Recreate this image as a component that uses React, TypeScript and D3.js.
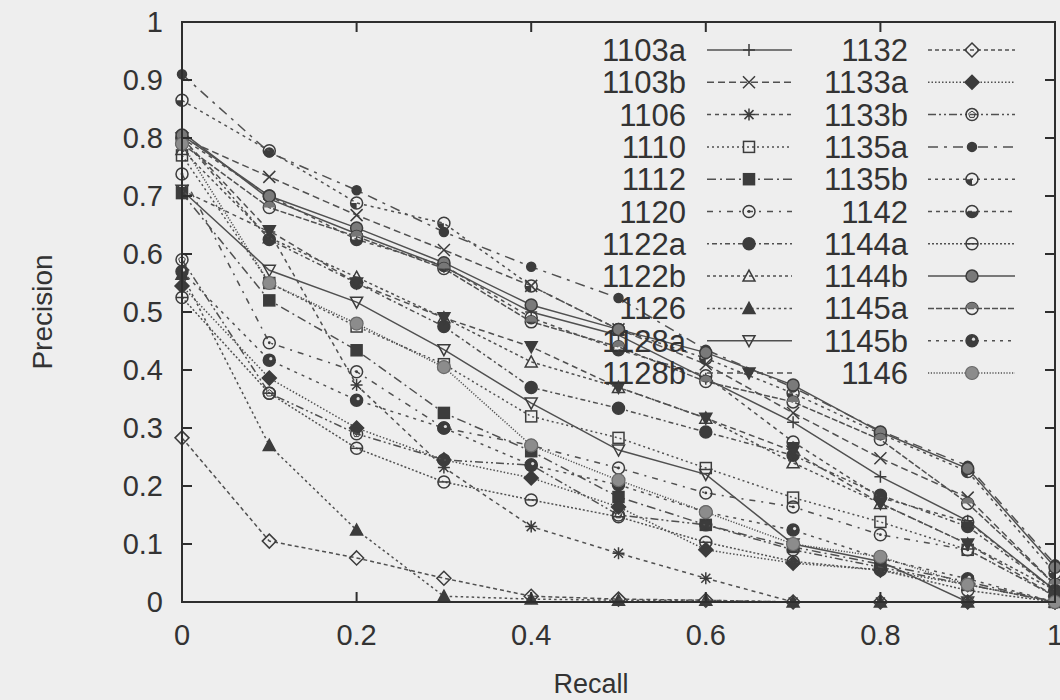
import React from "react";
import * as d3 from "d3";

// ---------- data ----------
const recall = [0, 0.1, 0.2, 0.3, 0.4, 0.5, 0.6, 0.7, 0.8, 0.9, 1.0];
const xTicks = [0, 0.2, 0.4, 0.6, 0.8, 1];
const yTicks = [0, 0.1, 0.2, 0.3, 0.4, 0.5, 0.6, 0.7, 0.8, 0.9, 1];
const xTickLabels = ["0", "0.2", "0.4", "0.6", "0.8", "1"];
const yTickLabels = ["0", "0.1", "0.2", "0.3", "0.4", "0.5", "0.6", "0.7", "0.8", "0.9", "1"];

const p1103a = [0.81, 0.695, 0.635, 0.578, 0.5, 0.46, 0.385, 0.31, 0.216, 0.14, 0.02];
const p1103b = [0.8, 0.733, 0.667, 0.607, 0.545, 0.47, 0.41, 0.326, 0.248, 0.18, 0.03];
const p1106 = [0.71, 0.638, 0.374, 0.232, 0.13, 0.084, 0.041, 0.0, 0.0, 0.0, 0.0];
const p1110 = [0.77, 0.55, 0.475, 0.41, 0.32, 0.283, 0.231, 0.18, 0.138, 0.09, 0.01];
const p1112 = [0.705, 0.52, 0.434, 0.326, 0.26, 0.181, 0.133, 0.095, 0.065, 0.035, 0.0];
const p1120 = [0.738, 0.447, 0.397, 0.3, 0.27, 0.231, 0.188, 0.164, 0.116, 0.09, 0.01];
const p1122a = [0.8, 0.625, 0.55, 0.475, 0.37, 0.334, 0.293, 0.253, 0.184, 0.13, 0.02];
const p1122b = [0.78, 0.628, 0.56, 0.49, 0.414, 0.37, 0.317, 0.24, 0.17, 0.1, 0.02];
const p1126 = [0.565, 0.27, 0.124, 0.01, 0.005, 0.003, 0.003, 0.0, 0.0, 0.0, 0.0];
const p1128a = [0.71, 0.572, 0.517, 0.435, 0.343, 0.262, 0.22, 0.1, 0.07, 0.0, 0.0];
const p1128b = [0.8, 0.64, 0.55, 0.49, 0.44, 0.37, 0.317, 0.26, 0.17, 0.1, 0.01];
const p1132 = [0.283, 0.105, 0.076, 0.041, 0.01, 0.005, 0.003, 0.0, 0.0, 0.0, 0.0];
const p1133a = [0.545, 0.386, 0.3, 0.245, 0.214, 0.164, 0.09, 0.067, 0.055, 0.03, 0.0];
const p1133b = [0.59, 0.36, 0.29, 0.245, 0.236, 0.15, 0.133, 0.09, 0.06, 0.03, 0.0];
const p1135a = [0.91, 0.775, 0.71, 0.638, 0.578, 0.524, 0.435, 0.37, 0.295, 0.235, 0.065];
const p1135b = [0.865, 0.778, 0.688, 0.653, 0.545, 0.47, 0.42, 0.36, 0.29, 0.225, 0.05];
const p1142 = [0.8, 0.7, 0.625, 0.58, 0.49, 0.435, 0.39, 0.276, 0.18, 0.138, 0.02];
const p1144a = [0.525, 0.36, 0.265, 0.207, 0.176, 0.147, 0.103, 0.07, 0.055, 0.02, 0.0];
const p1144b = [0.805, 0.7, 0.645, 0.585, 0.512, 0.47, 0.43, 0.374, 0.293, 0.23, 0.06];
const p1145a = [0.79, 0.68, 0.63, 0.575, 0.483, 0.44, 0.38, 0.345, 0.28, 0.17, 0.03];
const p1145b = [0.57, 0.417, 0.348, 0.3, 0.236, 0.202, 0.155, 0.124, 0.075, 0.04, 0.0];
const p1146 = [0.79, 0.55, 0.48, 0.405, 0.27, 0.21, 0.155, 0.1, 0.078, 0.03, 0.0];

const seriesNames = [
  "1103a", "1103b", "1106", "1110", "1112", "1120", "1122a", "1122b", "1126", "1128a", "1128b",
  "1132", "1133a", "1133b", "1135a", "1135b", "1142", "1144a", "1144b", "1145a", "1145b", "1146",
];
const seriesValues = [
  p1103a, p1103b, p1106, p1110, p1112, p1120, p1122a, p1122b, p1126, p1128a, p1128b,
  p1132, p1133a, p1133b, p1135a, p1135b, p1142, p1144a, p1144b, p1145a, p1145b, p1146,
];

// ---------- styles ----------
const markerKinds = [
  "plus", "cross", "star", "square", "squareFilled", "circleDot", "circleFilled", "triangle",
  "triangleFilled", "triDown", "triDownFilled",
  "diamond", "diamondFilled", "circlePent", "smallDot", "circleQuarter", "circleHalf", "circleBar",
  "circleGray", "circleDash", "circleDark", "circleLight",
];
const dashes = [
  "", "7,4", "4,4", "2,3", "9,4,2,4", "6,6,2,6", "2,3,5,3", "3,3", "2.5,3", "", "6,4",
  "4,3", "1.5,2", "8,3,2,3,2,3", "10,6,3,6", "3,4", "4,4", "2,2", "", "6,2", "3,5", "1.2,1.6",
];

const INK = "#3c3c3c";
const LINE = "#505050";

function Marker({ kind, cx, cy }: { kind: string; cx: number; cy: number }) {
  const s = 6;
  const common = { stroke: INK, strokeWidth: 1.5 };
  const g = (children: React.ReactNode) => <g transform={`translate(${cx},${cy})`}>{children}</g>;
  switch (kind) {
    case "plus":
      return g(<path d={`M${-s},0H${s}M0,${-s}V${s}`} fill="none" {...common} />);
    case "cross":
      return g(<path d={`M${-s},${-s}L${s},${s}M${-s},${s}L${s},${-s}`} fill="none" {...common} />);
    case "star":
      return g(<path d={`M${-s},0H${s}M0,${-s}V${s}M${-s + 1.5},${-s + 1.5}L${s - 1.5},${s - 1.5}M${-s + 1.5},${s - 1.5}L${s - 1.5},${-s + 1.5}`} fill="none" {...common} />);
    case "square":
      return g(<rect x={-5.5} y={-5.5} width={11} height={11} fill="none" {...common} />);
    case "squareFilled":
      return g(<rect x={-5.5} y={-5.5} width={11} height={11} fill={INK} {...common} />);
    case "circleDot":
      return g(<>
        <circle r={6} fill="none" {...common} />
        <circle r={1.4} fill={INK} />
      </>);
    case "circleFilled":
      return g(<circle r={6} fill={INK} {...common} />);
    case "triangle":
      return g(<path d="M0,-6L6,5H-6Z" fill="none" {...common} />);
    case "triangleFilled":
      return g(<path d="M0,-6L6,5H-6Z" fill={INK} {...common} />);
    case "triDown":
      return g(<path d="M0,6L6,-5H-6Z" fill="none" {...common} />);
    case "triDownFilled":
      return g(<path d="M0,6L6,-5H-6Z" fill={INK} {...common} />);
    case "diamond":
      return g(<path d="M0,-7L7,0L0,7L-7,0Z" fill="none" {...common} />);
    case "diamondFilled":
      return g(<path d="M0,-7L7,0L0,7L-7,0Z" fill={INK} {...common} />);
    case "circlePent":
      return g(<>
        <circle r={6} fill="none" {...common} />
        <path d="M0,-3.5L3.3,-1.1L2.1,2.8H-2.1L-3.3,-1.1Z" fill="none" stroke={INK} strokeWidth={1} />
      </>);
    case "smallDot":
      return g(<circle r={4.5} fill={INK} {...common} />);
    case "circleQuarter":
      return g(<>
        <circle r={6} fill="none" {...common} />
        <path d="M0,0V6A6,6 0 0 1 -6,0Z" fill={INK} />
      </>);
    case "circleHalf":
      return g(<>
        <circle r={6} fill="none" {...common} />
        <path d="M-6,0A6,6 0 0 0 6,0Z" fill={INK} />
      </>);
    case "circleBar":
      return g(<>
        <circle r={6} fill="none" {...common} />
        <path d="M-6,0H6" stroke={INK} strokeWidth={1.5} />
      </>);
    case "circleGray":
      return g(<circle r={6} fill="#7a7a7a" {...common} />);
    case "circleDash":
      return g(<>
        <circle r={6} fill="none" {...common} />
        <path d="M-6,0A6,6 0 0 1 6,0Z" fill="#777" />
      </>);
    case "circleDark":
      return g(<>
        <circle r={6} fill={INK} {...common} />
        <circle cx={1.5} cy={-1.5} r={1.6} fill="#ddd" />
      </>);
    case "circleLight":
      return g(<circle r={6.5} fill="#8c8c8c" stroke="#6a6a6a" strokeWidth={1.2} />);
    default:
      return null;
  }
}

export default function App() {
  const W = 1060, H = 700;
  const left = 182, right = 1055, top = 22, bottom = 602;
  const x = d3.scaleLinear().domain([0, 1]).range([left, right]);
  const y = d3.scaleLinear().domain([0, 1]).range([bottom, top]);
  const line = d3.line<number>().x((_, i) => x(recall[i])).y((d) => y(d));
  const font = "'Liberation Sans', Arial, Helvetica, sans-serif";
  const txt = "#333";

  const rowY = (i: number) => 50 + 32.3 * i;
  const legendCols = [
    { labelRight: 686, x0: 707, x1: 792, mx: 749 },
    { labelRight: 908, x0: 928, x1: 1015, mx: 972 },
  ];

  return (
    <svg width={W} height={H} style={{ position: "absolute", left: 0, top: 0, background: "#eeeeee" }} fontFamily={font}>
      <rect x={0} y={0} width={W} height={H} fill="#eeeeee" />
      {/* series */}
      {seriesValues.map((vals, si) => (
        <g key={seriesNames[si]}>
          <path d={line(vals) || ""} fill="none" stroke={LINE} strokeWidth={1.5} strokeDasharray={dashes[si] || undefined} />
          {vals.map((v, i) => (
            <Marker key={i} kind={markerKinds[si]} cx={x(recall[i])} cy={y(v)} />
          ))}
        </g>
      ))}
      {/* frame */}
      <rect x={left} y={top} width={right - left} height={bottom - top} fill="none" stroke="#2e2e2e" strokeWidth={2} />
      {yTicks.map((t) => (
        <g key={"y" + t}>
          <line x1={left} x2={left + 10} y1={y(t)} y2={y(t)} stroke="#2e2e2e" strokeWidth={2} />
          <line x1={right} x2={right - 10} y1={y(t)} y2={y(t)} stroke="#2e2e2e" strokeWidth={2} />
        </g>
      ))}
      {xTicks.map((t) => (
        <g key={"x" + t}>
          <line x1={x(t)} x2={x(t)} y1={bottom} y2={bottom - 10} stroke="#2e2e2e" strokeWidth={2} />
          <line x1={x(t)} x2={x(t)} y1={top} y2={top + 10} stroke="#2e2e2e" strokeWidth={2} />
        </g>
      ))}
      {yTicks.map((t, i) => (
        <text key={"yl" + t} x={163} y={y(t) + 10} textAnchor="end" fontSize={29} fill={txt}>{yTickLabels[i]}</text>
      ))}
      {xTicks.map((t, i) => (
        <text key={"xl" + t} x={x(t)} y={645} textAnchor="middle" fontSize={29} fill={txt}>{xTickLabels[i]}</text>
      ))}
      <text x={591} y={693} textAnchor="middle" fontSize={27} fill={txt}>Recall</text>
      <text transform="translate(52,312) rotate(-90)" textAnchor="middle" fontSize={28} fill={txt}>Precision</text>
      {/* legend */}
      {seriesNames.map((name, si) => {
        const col = legendCols[si < 11 ? 0 : 1];
        const ry = rowY(si % 11);
        return (
          <g key={"lg" + name}>
            <text x={col.labelRight} y={ry + 11} textAnchor="end" fontSize={31} fill={txt}>{name}</text>
            <line x1={col.x0} x2={col.x1} y1={ry} y2={ry} stroke={LINE} strokeWidth={1.5} strokeDasharray={dashes[si] || undefined} />
            <Marker kind={markerKinds[si]} cx={col.mx} cy={ry} />
          </g>
        );
      })}
    </svg>
  );
}
